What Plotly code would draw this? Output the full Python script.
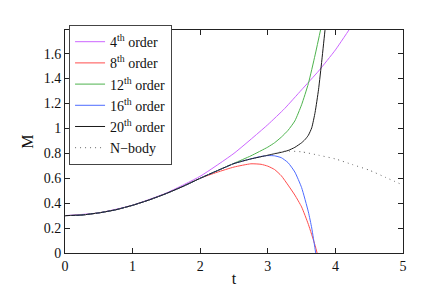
import plotly.graph_objects as go

# common early part (all orders coincide)
t_common = [0.0, 0.25, 0.5, 0.75, 1.0, 1.25, 1.5, 1.75, 2.0]
m_common = [0.300, 0.305, 0.322, 0.347, 0.383, 0.427, 0.478, 0.536, 0.600]

t_4 = [0.0, 0.5, 1.0, 1.5, 2.0, 2.5, 3.0, 3.25, 3.5, 3.75, 4.0, 4.25, 4.4]
m_4 = [0.300, 0.322, 0.384, 0.482, 0.616, 0.800, 1.030, 1.160, 1.310, 1.460, 1.630, 1.830, 1.95]

t_8 = t_common + [2.25, 2.5, 2.75, 2.9, 3.0, 3.1, 3.2, 3.3, 3.4, 3.5, 3.6, 3.7, 3.8]
m_8 = m_common + [0.648, 0.690, 0.716, 0.712, 0.697, 0.670, 0.620, 0.545, 0.465, 0.370, 0.230, 0.060, -0.15]

t_12 = t_common + [2.25, 2.5, 2.75, 3.0, 3.1, 3.2, 3.3, 3.4, 3.5, 3.6, 3.7, 3.8]
m_12 = m_common + [0.660, 0.720, 0.780, 0.850, 0.885, 0.930, 0.985, 1.060, 1.190, 1.360, 1.590, 1.840]

t_16 = t_common + [2.25, 2.5, 2.75, 2.9, 3.0, 3.1, 3.2, 3.3, 3.4, 3.5, 3.6, 3.65, 3.7, 3.75]
m_16 = m_common + [0.660, 0.718, 0.756, 0.775, 0.782, 0.780, 0.765, 0.725, 0.650, 0.525, 0.330, 0.200, 0.030, -0.15]

t_20 = t_common + [2.25, 2.5, 2.75, 3.0, 3.1, 3.2, 3.3, 3.4, 3.5, 3.55, 3.6, 3.65, 3.7, 3.75, 3.8, 3.85, 3.9]
m_20 = m_common + [0.660, 0.718, 0.755, 0.785, 0.797, 0.808, 0.823, 0.848, 0.885, 0.910, 0.945, 1.005, 1.130, 1.310, 1.550, 1.810, 2.1]

t_nb = t_common + [2.25, 2.5, 2.75, 3.0, 3.25, 3.5, 3.75, 4.0, 4.25, 4.5, 4.75, 5.0]
m_nb = m_common + [0.660, 0.718, 0.755, 0.785, 0.818, 0.812, 0.785, 0.755, 0.710, 0.665, 0.605, 0.545]

names = ["4<sup>th</sup> order", "8<sup>th</sup> order", "12<sup>th</sup> order",
         "16<sup>th</sup> order", "20<sup>th</sup> order", "N\u2212body"]
colors = ["#cc66ff", "#ff4d4d", "#4db34d", "#4d6bff", "#1a1a1a", "#666666"]
series = [(t_4, m_4), (t_8, m_8), (t_12, m_12), (t_16, m_16), (t_20, m_20), (t_nb, m_nb)]

x_ticks = [0, 1, 2, 3, 4, 5]
y_ticks = [0, 0.2, 0.4, 0.6, 0.8, 1, 1.2, 1.4, 1.6]
y_tick_text = ["0", "0.2", "0.4", "0.6", "0.8", "1", "1.2", "1.4", "1.6"]

fig = go.Figure()
for i, ((tx, my), nm, c) in enumerate(zip(series, names, colors)):
    fig.add_trace(go.Scatter(
        x=tx, y=my, mode="lines", name=nm,
        line=dict(color=c, width=1, shape="spline", smoothing=0.5,
                  dash="1px,4px" if i == 5 else "solid"),
    ))

font = "Times New Roman, Liberation Serif, serif"
axis_common = dict(showgrid=False, zeroline=False, showline=True, linecolor="#222",
                   linewidth=1, mirror="ticks", ticks="inside", ticklen=5,
                   tickcolor="#222", tickfont=dict(family=font, size=14, color="#111"))
fig.update_layout(
    width=436, height=289,
    margin=dict(l=57, r=41, t=22, b=35),
    paper_bgcolor="white", plot_bgcolor="white",
    font=dict(family=font, size=14, color="#111"),
    xaxis=dict(range=[0, 5], tickvals=x_ticks, title=dict(text="t", font=dict(family=font, size=16), standoff=0),
               **axis_common),
    yaxis=dict(range=[0, 1.79], tickvals=y_ticks, ticktext=y_tick_text,
               title=dict(text="M", font=dict(family=font, size=16), standoff=6), **axis_common),
    legend=dict(x=0.012, y=1.022, xanchor="left", yanchor="top",
                bgcolor="white", bordercolor="#444", borderwidth=1,
                font=dict(family=font, size=14, color="#111"),
                tracegroupgap=0, itemwidth=30),
    showlegend=True,
)
fig.write_html("out.html")
